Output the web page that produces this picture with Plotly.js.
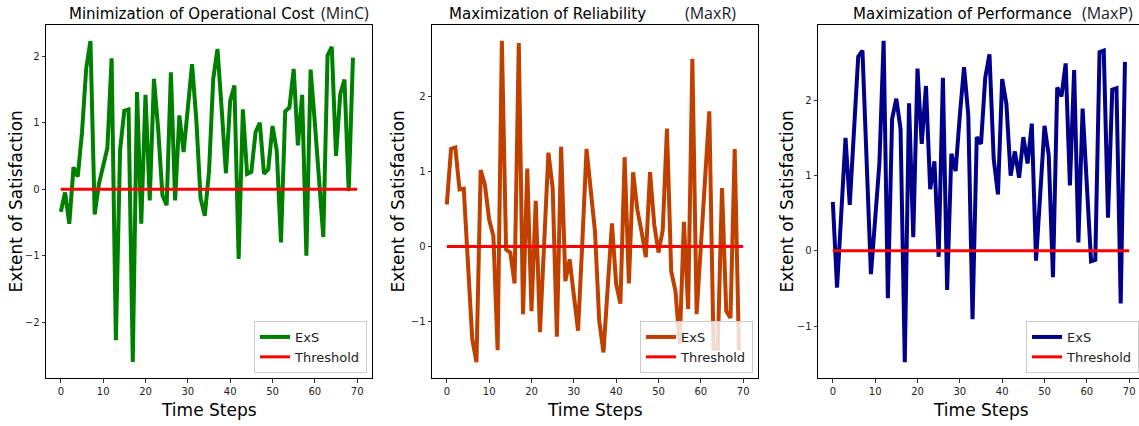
<!DOCTYPE html>
<html>
<head>
<meta charset="utf-8">
<script src="https://cdn.plot.ly/plotly-3.0.1.min.js"></script>
<style>
html,body{margin:0;padding:0;overflow:hidden;background:#fff;}
#chart{width:1146px;height:426px;}
</style>
</head>
<body>
<div id="chart"></div>
<script>
// ---- data ----
const timeSteps = Array.from({length: 70}, (_, i) => i);
const thresholdX = [0, 70];
const thresholdY = [0, 0];
const xTicks = [0, 10, 20, 30, 40, 50, 60, 70];

const minC = [-0.34, -0.05, -0.52, 0.33, 0.19, 0.85, 1.82, 2.23, -0.38, 0.08,
  0.35, 0.62, 1.97, -2.27, 0.59, 1.18, 1.20, -2.60, 1.46, -0.52,
  1.42, -0.17, 1.66, 0.90, -0.09, -0.24, 1.76, -0.17, 1.11, 0.56,
  1.22, 1.88, 1.05, -0.13, -0.40, 0.26, 1.66, 2.11, 1.20, 0.24,
  1.33, 1.56, -1.05, 1.20, 0.23, 0.26, 0.86, 1.00, 0.23, 0.30,
  0.95, 0.58, -0.80, 1.17, 1.23, 1.81, 0.66, 1.42, -1.00, 1.80,
  1.00, 0.10, -0.72, 2.01, 2.14, 0.50, 1.43, 1.65, -0.03, 1.98];

const maxR = [0.56, 1.30, 1.32, 0.76, 0.77, -0.25, -1.23, -1.54, 1.02, 0.82,
  0.36, 0.14, -1.38, 2.74, -0.04, -0.08, -0.49, 2.71, -0.90, 1.04,
  -0.86, 0.61, -1.14, 0.05, 1.25, 0.78, -1.20, 1.33, -0.46, -0.17,
  -0.65, -1.12, 0.05, 1.30, 0.75, 0.20, -0.99, -1.41, -0.55, 0.31,
  -0.50, -0.76, 1.19, -0.49, 0.99, 0.49, 0.20, -0.14, 0.99, 0.29,
  -0.08, 0.22, 1.57, -0.33, -0.59, -1.30, 0.33, -0.83, 2.50, -0.90,
  0.00, 0.90, 1.80, -1.36, -1.36, 0.78, -0.86, -0.95, 1.30, -1.38];

const maxP = [0.65, -0.49, 0.50, 1.50, 0.61, 1.59, 2.58, 2.66, 1.18, -0.31,
  0.42, 1.16, 2.79, -0.63, 1.75, 2.02, 1.62, -1.48, 1.96, 0.18,
  2.42, 1.42, 2.19, 0.82, 1.19, -0.08, 2.30, -0.52, 1.29, 1.06,
  1.80, 2.44, 1.80, -0.91, 1.51, 1.42, 2.30, 2.61, 1.22, 0.75,
  2.28, 1.95, 1.00, 1.32, 0.97, 1.51, 1.16, 1.69, -0.13, 0.75,
  1.66, 1.27, -0.35, 2.17, 2.05, 2.49, 0.87, 2.40, 0.11, 1.89,
  0.88, -0.14, -0.12, 2.64, 2.66, 0.44, 2.14, 2.16, -0.70, 2.51];

const panels = [
  {main: 'Minimization of Operational Cost', tag: '(MinC)', y: minC, color: '#008000', yTicks: [-2, -1, 0, 1, 2], yRange: [-2.84, 2.47]},
  {main: 'Maximization of Reliability', tag: '(MaxR)', y: maxR, color: '#c04000', yTicks: [-1, 0, 1, 2], yRange: [-1.75, 2.95]},
  {main: 'Maximization of Performance', tag: '(MaxP)', y: maxP, color: '#00008b', yTicks: [-1, 0, 1, 2], yRange: [-1.69, 3.0]}
];
const seriesName = 'ExS';
const thresholdName = 'Threshold';
const xTitle = 'Time Steps';
const yTitle = 'Extent of Satisfaction';

// ---- layout geometry (pixels) ----
const W = 1146, H = 426;
const plotLeft = [46, 432, 818];
const plotWidth = 326;
const plotTop = 25, plotBottom = 378;
const titleLeft = [67, 447, 851];
const tagLeft = [319, 683, 1080];
const yTitleX = [15, 397, 786];
const px = v => v / W;
const py = v => (H - v) / H;

const FONT = 'DejaVu Sans, sans-serif';
const traces = [];
const layout = {
  width: W, height: H,
  margin: {l: 0, r: 0, t: 0, b: 0},
  paper_bgcolor: '#fff', plot_bgcolor: '#fff',
  showlegend: true,
  annotations: []
};

panels.forEach((p, k) => {
  const n = k === 0 ? '' : String(k + 1);
  const legendId = 'legend' + n;
  traces.push({
    x: timeSteps, y: p.y, type: 'scatter', mode: 'lines', name: seriesName,
    line: {color: p.color, width: 4}, xaxis: 'x' + n, yaxis: 'y' + n, legend: legendId
  });
  traces.push({
    x: thresholdX, y: thresholdY, type: 'scatter', mode: 'lines', name: thresholdName,
    line: {color: '#ff0000', width: 3}, xaxis: 'x' + n, yaxis: 'y' + n, legend: legendId
  });
  const axCommon = {
    showline: true, mirror: true, linecolor: '#000', linewidth: 1,
    showgrid: false, zeroline: false,
    ticks: 'outside', ticklen: 3.5, tickwidth: 0.8, tickcolor: '#000',
    tickfont: {family: FONT, size: 10, color: '#222'}
  };
  layout['xaxis' + n] = Object.assign({}, axCommon, {
    domain: [px(plotLeft[k]), px(plotLeft[k] + plotWidth)],
    range: [-3.5, 73.5], tickmode: 'array', tickvals: xTicks,
    anchor: 'y' + n
  });
  layout['yaxis' + n] = Object.assign({}, axCommon, {
    domain: [py(plotBottom), py(plotTop)],
    range: p.yRange, tickmode: 'array', tickvals: p.yTicks,
    anchor: 'x' + n
  });
  layout[legendId] = {
    x: px(plotLeft[k] + plotWidth - 5), y: py(373), xanchor: 'right', yanchor: 'bottom',
    xref: 'paper', yref: 'paper',
    bgcolor: 'rgba(255,255,255,0.8)', bordercolor: '#cccccc', borderwidth: 1,
    font: {family: FONT, size: 13, color: '#222'},
    tracegroupgap: 0
  };
  layout.annotations.push({
    xref: 'paper', yref: 'paper', x: px(titleLeft[k]), y: py(14),
    xanchor: 'left', yanchor: 'middle', showarrow: false,
    text: p.main,
    font: {family: FONT, size: 15, color: '#000'}
  });
  layout.annotations.push({
    xref: 'paper', yref: 'paper', x: px(tagLeft[k]), y: py(13),
    xanchor: 'left', yanchor: 'middle', showarrow: false,
    text: p.tag,
    font: {family: 'Open Sans, sans-serif', size: 16, color: '#1a1a2a'}
  });
  layout.annotations.push({
    xref: 'paper', yref: 'paper', x: px(plotLeft[k] + plotWidth / 2), y: py(410),
    xanchor: 'center', yanchor: 'middle', showarrow: false,
    text: xTitle, font: {family: FONT, size: 17, color: '#000'}
  });
  layout.annotations.push({
    xref: 'paper', yref: 'paper', x: px(yTitleX[k]), y: py((plotTop + plotBottom) / 2),
    xanchor: 'center', yanchor: 'middle', showarrow: false, textangle: -90,
    text: yTitle, font: {family: FONT, size: 17, color: '#000'}
  });
});

Plotly.newPlot('chart', traces, layout, {staticPlot: true, displayModeBar: false});
</script>
</body>
</html>
